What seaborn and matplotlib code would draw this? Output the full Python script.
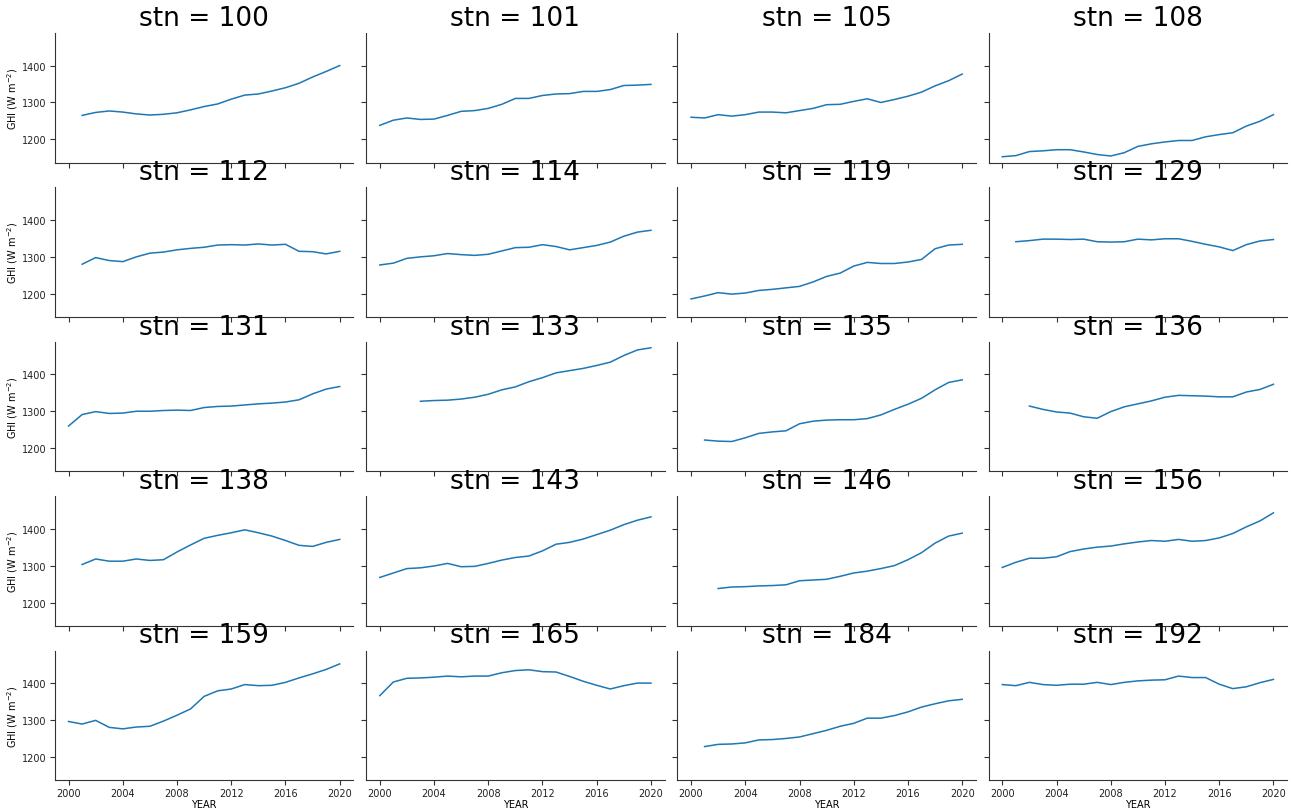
import numpy as np
import pandas as pd
import matplotlib
matplotlib.use("Agg")
import matplotlib.pyplot as plt
import seaborn as sns

years = list(range(2000, 2021))
N = np.nan

stations = [100, 101, 105, 108, 112, 114, 119, 129, 131, 133,
            135, 136, 138, 143, 146, 156, 159, 165, 184, 192]

ghi_100 = [N, 1265, 1273, 1277, 1274, 1269, 1266, 1268, 1272, 1280, 1289, 1296, 1309, 1320, 1323, 1331, 1340, 1352, 1369, 1384, 1400]
ghi_101 = [1238, 1252, 1258, 1254, 1255, 1265, 1276, 1278, 1284, 1295, 1311, 1311, 1319, 1323, 1324, 1330, 1330, 1335, 1346, 1347, 1349]
ghi_105 = [1260, 1258, 1267, 1263, 1267, 1274, 1274, 1272, 1278, 1284, 1294, 1295, 1303, 1310, 1300, 1308, 1317, 1328, 1345, 1359, 1377]
ghi_108 = [1153, 1156, 1167, 1169, 1172, 1172, 1166, 1159, 1155, 1164, 1181, 1188, 1193, 1197, 1197, 1207, 1213, 1218, 1236, 1249, 1267]
ghi_112 = [N, 1280, 1298, 1290, 1287, 1300, 1310, 1313, 1319, 1323, 1326, 1332, 1333, 1332, 1335, 1332, 1334, 1315, 1314, 1308, 1315]
ghi_114 = [1278, 1283, 1296, 1300, 1303, 1309, 1306, 1304, 1307, 1316, 1325, 1326, 1333, 1328, 1319, 1325, 1331, 1340, 1356, 1367, 1372]
ghi_119 = [1186, 1194, 1203, 1199, 1202, 1209, 1212, 1216, 1220, 1232, 1247, 1256, 1275, 1285, 1282, 1282, 1286, 1293, 1322, 1332, 1334]
ghi_129 = [N, 1341, 1344, 1348, 1348, 1347, 1348, 1341, 1340, 1341, 1348, 1346, 1349, 1349, 1342, 1334, 1327, 1317, 1333, 1343, 1347]
ghi_131 = [1260, 1291, 1299, 1294, 1295, 1300, 1300, 1302, 1303, 1302, 1310, 1313, 1314, 1317, 1320, 1322, 1325, 1331, 1347, 1360, 1367]
ghi_133 = [N, N, N, 1327, 1329, 1330, 1333, 1338, 1346, 1358, 1366, 1380, 1391, 1404, 1410, 1416, 1424, 1433, 1451, 1466, 1472]
ghi_135 = [N, 1222, 1219, 1218, 1228, 1240, 1244, 1247, 1266, 1273, 1276, 1277, 1277, 1280, 1290, 1305, 1319, 1335, 1358, 1378, 1385]
ghi_136 = [N, N, 1314, 1305, 1298, 1295, 1285, 1281, 1299, 1312, 1320, 1328, 1338, 1343, 1342, 1341, 1339, 1339, 1352, 1359, 1373]
ghi_138 = [N, 1303, 1318, 1312, 1312, 1318, 1314, 1316, 1337, 1356, 1374, 1382, 1389, 1397, 1389, 1380, 1368, 1355, 1352, 1363, 1371]
ghi_143 = [1268, 1280, 1292, 1294, 1299, 1306, 1297, 1298, 1306, 1315, 1322, 1326, 1340, 1358, 1363, 1372, 1384, 1396, 1411, 1423, 1432]
ghi_146 = [N, N, 1238, 1242, 1243, 1245, 1246, 1248, 1259, 1261, 1263, 1271, 1280, 1285, 1292, 1300, 1316, 1335, 1361, 1380, 1388]
ghi_156 = [1295, 1309, 1320, 1320, 1324, 1338, 1345, 1350, 1353, 1359, 1364, 1368, 1366, 1371, 1366, 1368, 1375, 1387, 1405, 1421, 1443]
ghi_159 = [1296, 1289, 1299, 1280, 1276, 1281, 1283, 1297, 1313, 1330, 1364, 1379, 1384, 1396, 1393, 1394, 1402, 1414, 1425, 1437, 1452]
ghi_165 = [1366, 1403, 1413, 1414, 1416, 1419, 1417, 1419, 1419, 1428, 1434, 1436, 1431, 1430, 1418, 1405, 1394, 1384, 1393, 1400, 1400]
ghi_184 = [N, 1228, 1234, 1235, 1238, 1246, 1247, 1250, 1254, 1263, 1272, 1283, 1291, 1305, 1305, 1312, 1322, 1335, 1344, 1352, 1356]
ghi_192 = [1396, 1393, 1402, 1396, 1394, 1397, 1397, 1402, 1396, 1402, 1406, 1408, 1409, 1419, 1415, 1415, 1397, 1385, 1390, 1401, 1410]

series = [ghi_100, ghi_101, ghi_105, ghi_108, ghi_112, ghi_114, ghi_119, ghi_129,
          ghi_131, ghi_133, ghi_135, ghi_136, ghi_138, ghi_143, ghi_146, ghi_156,
          ghi_159, ghi_165, ghi_184, ghi_192]

xticks = [2000, 2004, 2008, 2012, 2016, 2020]
yticks = [1200, 1300, 1400]

rows = []
for stn, vals in zip(stations, series):
    for y, v in zip(years, vals):
        if not np.isnan(v):
            rows.append({"stn": stn, "YEAR": y, "GHI": v})
df = pd.DataFrame(rows)

g = sns.relplot(data=df, x="YEAR", y="GHI", col="stn", col_wrap=4, kind="line",
                height=2.0, aspect=1.5, linewidth=1.1, color="#1f77b4")
g.set_titles("stn = {col_name}", size=19, color="black")
for ax in g.axes.flat:
    ax.set_xticks(xticks)
    ax.set_yticks(yticks)
    ax.tick_params(labelsize=7, length=3.5, width=0.8, pad=2.5, colors="#333333",
                   labelcolor="#222222")
    for s in ax.spines.values():
        s.set_linewidth(0.8)
        s.set_color("#333333")
    if ax.get_xlabel():
        ax.set_xlabel("YEAR", fontsize=7, labelpad=0.5)
    if ax.get_ylabel():
        ax.set_ylabel("GHI (W m$^{-2}$)", fontsize=7, labelpad=1.5)
g.fig.set_size_inches(12.91, 8.12)
g.fig.subplots_adjust(left=0.0426, right=0.9969, top=0.958, bottom=0.038,
                      wspace=0.0435, hspace=0.192)
g.fig.savefig("out.png", dpi=100)
